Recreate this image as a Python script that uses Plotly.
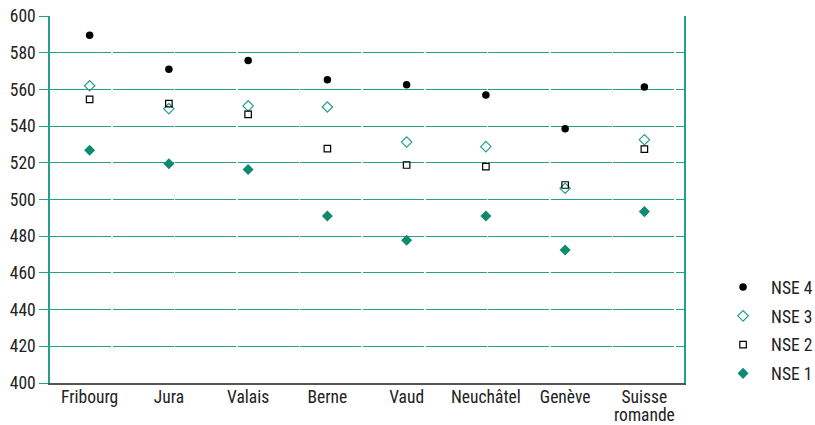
import plotly.graph_objects as go

categories = ["Fribourg", "Jura", "Valais", "Berne", "Vaud", "Neuchâtel", "Genève", "Suisse<br>romande"]
nse4 = [589.5, 571, 575.8, 565.2, 562.5, 557, 538.6, 561.3]
nse3 = [562, 549.5, 551, 550.4, 531.3, 528.8, 506.1, 532.6]
nse2 = [554.6, 552.2, 546.4, 527.7, 518.8, 517.9, 507.9, 527.4]
nse1 = [526.8, 519.5, 516.3, 491, 477.8, 491, 472.5, 493.4]
y_ticks = [400, 420, 440, 460, 480, 500, 520, 540, 560, 580, 600]

TEAL = "#22a088"
DARK_TEAL = "#0e8a70"
FONT = "Liberation Sans Narrow, Roboto Condensed, Arial Narrow, sans-serif"
FS = 17.5

fig = go.Figure()
series = [
    ("NSE 4", nse4, dict(symbol="circle", size=7.5, color="black")),
    ("NSE 3", nse3, dict(symbol="diamond-open", size=8, color=TEAL, line=dict(width=1.2, color=TEAL))),
    ("NSE 2", nse2, dict(symbol="square-open", size=6.5, color="black", line=dict(width=1.2, color="black"))),
    ("NSE 1", nse1, dict(symbol="diamond", size=8.5, color=DARK_TEAL)),
]
for name, vals, marker in series:
    fig.add_trace(go.Scatter(x=categories, y=vals, mode="markers", name=name,
                             marker=marker, legendgroup=name))

# tick text drawn at 17.5px but with the tighter line spacing of a 14px font
tick_text = ["<span style='font-size:%spx'>%s</span>" % (FS, c.replace("<br>", "</span><br><span style='font-size:%spx'>" % FS)) for c in categories]

fig.update_layout(
    width=815, height=425,
    margin=dict(l=50, r=131, t=16, b=42, autoexpand=False),
    plot_bgcolor="white", paper_bgcolor="white",
    font=dict(family=FONT, size=FS, color="#222"),
    showlegend=True,
    legend=dict(x=1.049, y=0.31, xanchor="left", yanchor="top",
                font=dict(family=FONT, size=FS, color="#222"),
                tracegroupgap=3, itemwidth=46, bgcolor="rgba(0,0,0,0)"),
    xaxis=dict(
        type="category", range=[-0.5, 7.5], showgrid=False, automargin=False,
        showline=True, linecolor="#555", linewidth=1.5,
        tickvals=categories, ticktext=tick_text, ticklabelstandoff=1,
        ticks="", tickfont=dict(family=FONT, size=14, color="#222"),
        zeroline=False, fixedrange=True,
    ),
    yaxis=dict(
        range=[400, 600], tickvals=y_ticks, showgrid=True, automargin=False,
        gridcolor=TEAL, gridwidth=1.3, griddash="61px,1.6px",
        showline=True, linecolor=TEAL, linewidth=1.5, mirror=True,
        ticks="outside", ticklen=9, tickcolor=TEAL, tickwidth=1.3,
        tickfont=dict(family=FONT, size=FS, color="#222"),
        zeroline=False, fixedrange=True,
    ),
)

# remove the default 8px page margin so the figure fills the window exactly
fig.write_html(
    "out.html",
    config={"displayModeBar": False},
    post_script="document.body.style.margin='0';document.documentElement.style.overflow='hidden';",
)
